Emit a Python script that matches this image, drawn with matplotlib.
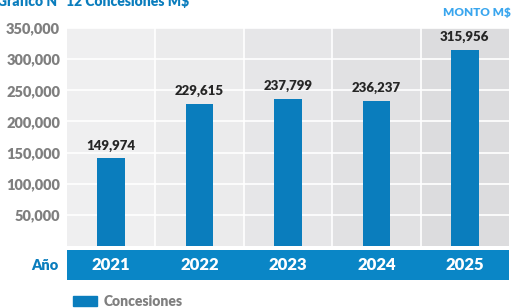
import matplotlib
matplotlib.use("Agg")
import matplotlib.pyplot as plt
from matplotlib.patches import Patch

plt.rcParams['font.family'] = ['Lato', 'DejaVu Sans']

# datos
anios = ['2021', '2022', '2023', '2024', '2025']
montos = [149974, 229615, 237799, 236237, 315956]      # etiquetas
alturas = [140500, 227500, 236500, 233500, 315000]     # altura dibujada de las barras
yticks = [50000, 100000, 150000, 200000, 250000, 300000, 350000]

azul = '#0a7dbd'
azul_banda = '#0a86c6'
fondos = ['#efeff0', '#ebebec', '#e6e6e8', '#e1e1e3', '#dcdcde']
peso = 'heavy'

W, H = 513, 308
fig = plt.figure(figsize=(W/100, H/100), dpi=100)

# area del grafico
x0, x1, ytop, ybot = 67, 509, 28, 246
ax = fig.add_axes([x0/W, (H-ybot)/H, (x1-x0)/W, (ybot-ytop)/H])
xs = range(len(anios))
for i, c in enumerate(fondos):
    ax.axvspan(i-0.5, i+0.5, color=c, lw=0, zorder=0)
for i in range(1, len(anios)):
    ax.axvline(i-0.5, color='white', lw=1.2, zorder=1)
for y in yticks:
    ax.axhline(y, color='white', lw=1.2, zorder=1)

ax.bar(xs, alturas, width=0.31, color=azul, zorder=2)
for x, h, m in zip(xs, alturas, montos):
    ax.annotate(f'{m:,}', (x, h), xytext=(0, 5), textcoords='offset points',
                ha='center', va='bottom', fontsize=9.5, fontweight=peso, color='#262626')

ax.set_xlim(-0.5, len(anios)-0.5)
ax.set_ylim(0, 350000)
ax.set_yticks(yticks)
ax.set_yticklabels([f'{v:,}' for v in yticks], fontsize=10.5, fontweight=peso, color='#7f7f7f')
ax.set_xticks([])
ax.tick_params(axis='y', length=0, pad=5)
for s in ax.spines.values():
    s.set_visible(False)

# banda de años
bx = fig.add_axes([x0/W, (H-280)/H, (x1-x0)/W, 30/H], sharex=ax)
bx.set_facecolor(azul_banda)
for x, a in zip(xs, anios):
    bx.text(x, 0.5, a, ha='center', va='center', fontsize=12, fontweight=peso, color='white')
bx.set_xticks([])
bx.set_yticks([0.5])
bx.set_yticklabels(['Año'], fontsize=10.5, fontweight=peso, color=azul)
bx.tick_params(axis='y', length=0, pad=6)
bx.set_ylim(0, 1)
for s in bx.spines.values():
    s.set_visible(False)

# titulos
fig.text(-3/W, 1 - 6/H, 'Gráfico N° 12 Concesiones M$', fontsize=10, fontweight=peso,
         color=azul, ha='left', va='baseline')
fig.text(1 - 2/W, 1 - 13/H, 'MONTO M$', fontsize=8.5, fontweight=peso,
         color='#3aa6ee', ha='right', va='center')

# leyenda
fig.legend(handles=[Patch(color=azul)], labels=['Concesiones'], loc='center left',
           bbox_to_anchor=(60/W, 1 - 301/H), frameon=False,
           handlelength=1.75, handleheight=0.75, handletextpad=0.5,
           labelcolor='#7f7f7f', prop={'weight': peso, 'size': 10})

fig.savefig('out.png', dpi=100)
